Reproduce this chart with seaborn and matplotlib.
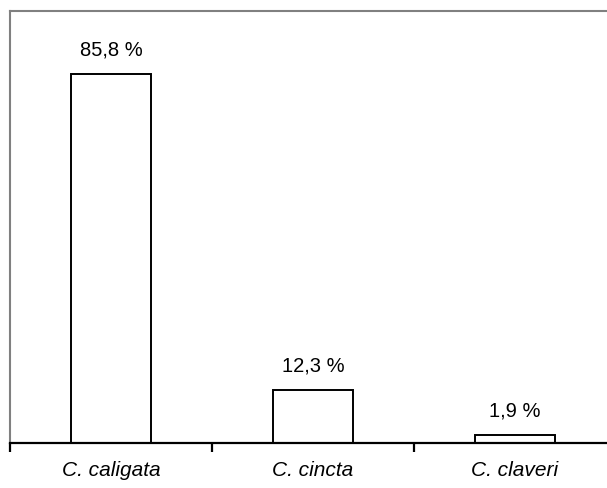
import matplotlib
matplotlib.use("Agg")
import matplotlib.pyplot as plt
import seaborn as sns
import pandas as pd
from matplotlib.ticker import FixedLocator

categories = ["C. caligata", "C. cincta", "C. claveri"]
values = [85.8, 12.3, 1.9]
value_labels = ["85,8 %", "12,3 %", "1,9 %"]

sns.set_style("white")
plt.rcParams["font.family"] = ["Liberation Sans", "DejaVu Sans"]
plt.rcParams["text.color"] = "black"
plt.rcParams["xtick.color"] = "black"

df = pd.DataFrame({"species": categories, "pct": values})

fig = plt.figure(figsize=(6.07, 4.89), dpi=100)
W, H = 607, 489
ax = fig.add_axes([10 / W, (H - 444) / H, 606 / W, (444 - 12) / H])

sns.barplot(data=df, x="species", y="pct", color="white", saturation=1,
            edgecolor="black", linewidth=1.4, width=0.4, ax=ax)
for p in ax.patches:
    p.set_facecolor("white")

ax.set_xlim(-0.5, 2.5)
ax.set_ylim(0, 100.4)
ax.set_xlabel("")
ax.set_ylabel("")
ax.set_yticks([])

ax.bar_label(ax.containers[0], labels=value_labels, padding=11, fontsize=14.5, color="black")

for lbl in ax.get_xticklabels():
    lbl.set_fontstyle("italic")
    lbl.set_fontsize(15)
    lbl.set_color("black")
ax.tick_params(axis="x", which="major", length=0, pad=12)
ax.xaxis.set_minor_locator(FixedLocator([-0.5, 0.5, 1.5, 2.5]))
ax.tick_params(axis="x", which="minor", direction="out", length=6.5, width=1.6, color="black", bottom=True)

ax.spines["right"].set_visible(False)
ax.spines["bottom"].set_color("black")
ax.spines["bottom"].set_linewidth(1.6)
ax.spines["bottom"].set_zorder(5)
for s in ["left", "top"]:
    ax.spines[s].set_color("#808080")
    ax.spines[s].set_linewidth(1.5)

fig.savefig("out.png", dpi=100)
